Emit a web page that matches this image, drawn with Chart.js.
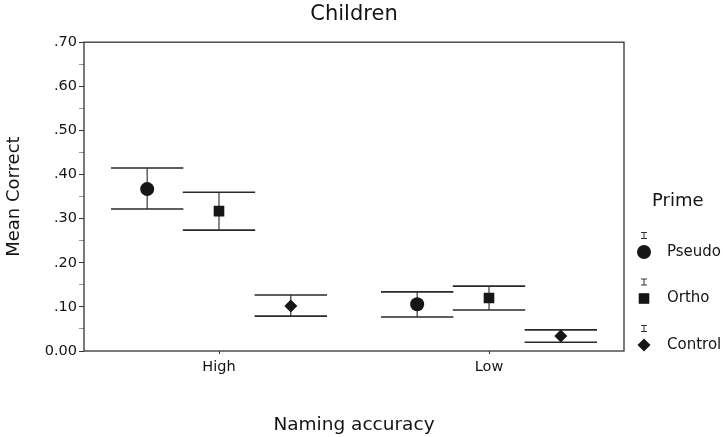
<!DOCTYPE html>
<html>
<head>
<meta charset="utf-8">
<script src="https://cdn.jsdelivr.net/npm/chart.js@4.4.1/dist/chart.umd.min.js"></script>
<style>
  html, body { margin: 0; padding: 0; background: #fff; }
  #wrap { width: 723px; height: 437px; }
</style>
</head>
<body>
<div id="wrap"><canvas id="chart"></canvas></div>
<script>
// Values (mean correct with error bar ends)
var categories = ['High', 'Low'];
var primeNames = ['Pseudo', 'Ortho', 'Control'];

var pseudoMean  = [0.367, 0.106];
var pseudoUpper = [0.415, 0.134];
var pseudoLower = [0.322, 0.077];

var orthoMean  = [0.317, 0.120];
var orthoUpper = [0.360, 0.147];
var orthoLower = [0.274, 0.093];

var controlMean  = [0.102, 0.034];
var controlUpper = [0.127, 0.048];
var controlLower = [0.079, 0.020];

var ink = '#161616';
var textInk = '#141414';
var FONT = '"DejaVu Sans", sans-serif';
var groupOffset = 0.266;   // horizontal dodge between primes, in category units
var capHalf = 0.134;       // half width of error bar caps

function points(means, shift) {
    return means.map(function (m, i) {
        return { x: i + 1 + shift, y: m };
    });
}

function makeSet(name, means, upper, lower, shift, style, radius) {
    return {
        label: name,
        data: points(means, shift),
        upper: upper,
        lower: lower,
        showLine: false,
        pointStyle: style,
        pointRadius: radius,
        pointHoverRadius: radius,
        pointBackgroundColor: ink,
        pointBorderColor: ink,
        pointBorderWidth: 0
    };
}

function drawMarker(ctx, style, x, y, r) {
    ctx.beginPath();
    if (style === 'circle') {
        ctx.arc(x, y, r, 0, Math.PI * 2);
    } else if (style === 'rect') {
        var s = r * Math.SQRT1_2;
        ctx.rect(x - s, y - s, 2 * s, 2 * s);
    } else {
        ctx.moveTo(x - r, y);
        ctx.lineTo(x, y - r);
        ctx.lineTo(x + r, y);
        ctx.lineTo(x, y + r);
        ctx.closePath();
    }
    ctx.fill();
}

// error bars: stem + wide caps, drawn through the chart scales
var errorBars = {
    id: 'errorBars',
    beforeDatasetsDraw: function (chart) {
        var ctx = chart.ctx;
        var xs = chart.scales.x, ys = chart.scales.y;
        ctx.save();
        chart.data.datasets.forEach(function (ds) {
            ds.data.forEach(function (p, i) {
                var px = xs.getPixelForValue(p.x);
                var yu = ys.getPixelForValue(ds.upper[i]);
                var yl = ys.getPixelForValue(ds.lower[i]);
                ctx.strokeStyle = '#3a3a3a';
                ctx.lineWidth = 1.2;
                ctx.beginPath();
                ctx.moveTo(px, yu);
                ctx.lineTo(px, yl);
                ctx.stroke();
                var x0 = xs.getPixelForValue(p.x - capHalf);
                var x1 = xs.getPixelForValue(p.x + capHalf);
                ctx.strokeStyle = '#2a2a2a';
                ctx.lineWidth = 1.6;
                ctx.beginPath();
                ctx.moveTo(x0, yu);
                ctx.lineTo(x1, yu);
                ctx.moveTo(x0, yl);
                ctx.lineTo(x1, yl);
                ctx.stroke();
            });
        });
        ctx.restore();
    }
};

// box round the plot area
var frame = {
    id: 'frame',
    afterDraw: function (chart) {
        var a = chart.chartArea;
        var ctx = chart.ctx;
        ctx.save();
        ctx.strokeStyle = '#333';
        ctx.lineWidth = 1.3;
        ctx.strokeRect(a.left, a.top, a.right - a.left, a.bottom - a.top);
        ctx.restore();
    }
};

// legend on the right, with the little error bar glyph above each marker
var primeLegend = {
    id: 'primeLegend',
    afterDraw: function (chart) {
        var ctx = chart.ctx;
        ctx.save();
        ctx.fillStyle = textInk;
        ctx.textBaseline = 'middle';
        ctx.textAlign = 'left';
        ctx.font = '18px ' + FONT;
        ctx.fillText('Prime', 652, 201);
        ctx.font = '15px ' + FONT;
        chart.data.datasets.forEach(function (ds, i) {
            var y = 252 + i * 46.5;
            var mx = 644;
            ctx.strokeStyle = '#333';
            ctx.lineWidth = 1;
            ctx.beginPath();
            ctx.moveTo(mx - 3, y - 19.5); ctx.lineTo(mx + 3, y - 19.5);
            ctx.moveTo(mx, y - 19.5); ctx.lineTo(mx, y - 13.5);
            ctx.moveTo(mx - 3, y - 13.5); ctx.lineTo(mx + 3, y - 13.5);
            ctx.stroke();
            ctx.fillStyle = ink;
            drawMarker(ctx, ds.pointStyle, mx, y, ds.pointRadius);
            ctx.fillStyle = textInk;
            ctx.fillText(ds.label, 667, y);
        });
        ctx.restore();
    }
};

var chart = new Chart(document.getElementById('chart').getContext('2d'), {
    type: 'line',
    data: {
        datasets: [
            makeSet(primeNames[0], pseudoMean, pseudoUpper, pseudoLower, -groupOffset, 'circle', 7),
            makeSet(primeNames[1], orthoMean, orthoUpper, orthoLower, 0, 'rect', 7.5),
            makeSet(primeNames[2], controlMean, controlUpper, controlLower, groupOffset, 'rectRot', 6.5)
        ]
    },
    options: {
        responsive: true,
        maintainAspectRatio: false,
        animation: false,
        devicePixelRatio: 1,
        layout: { padding: { left: 0, right: 99, top: 0, bottom: 0 } },
        plugins: {
            legend: { display: false },
            tooltip: { enabled: false },
            title: {
                display: true,
                text: 'Children',
                fullSize: false,
                color: textInk,
                font: { family: FONT, size: 21, weight: 'normal' },
                padding: { top: 2, bottom: 15 }
            }
        },
        scales: {
            x: {
                type: 'linear',
                min: 0.5,
                max: 2.5,
                afterBuildTicks: function (scale) {
                    scale.ticks = categories.map(function (c, i) { return { value: i + 1 }; });
                },
                afterFit: function (scale) { scale.height = 86; },
                ticks: {
                    color: textInk,
                    padding: 5,
                    font: { family: FONT, size: 14.5 },
                    callback: function (v, i) { return categories[i]; }
                },
                grid: { display: true, drawOnChartArea: false, drawTicks: true, tickLength: 3, tickColor: '#333' },
                border: { display: false },
                title: {
                    display: true,
                    text: 'Naming accuracy',
                    color: textInk,
                    font: { family: FONT, size: 18.5 },
                    padding: { top: 0, bottom: 1 }
                }
            },
            y: {
                min: 0,
                max: 0.7,
                afterFit: function (scale) { scale.width = 84; },
                ticks: {
                    stepSize: 0.05,
                    maxTicksLimit: 20,
                    color: textInk,
                    padding: 2,
                    font: { family: FONT, size: 14.5 },
                    callback: function (v) {
                        var h = Math.round(v * 100);
                        if (h % 10 !== 0) return '';
                        if (h === 0) return '0.00';
                        return (h / 100).toFixed(2).replace(/^0/, '');
                    }
                },
                grid: {
                    display: true,
                    drawOnChartArea: false,
                    drawTicks: true,
                    tickLength: 5,
                    tickColor: function (c) {
                        return Math.round(c.tick.value * 100) % 10 === 0 ? '#333' : '#999';
                    }
                },
                border: { display: false },
                title: {
                    display: true,
                    text: 'Mean Correct',
                    color: textInk,
                    font: { family: FONT, size: 18 },
                    padding: { top: 4, bottom: 0 }
                }
            }
        }
    },
    plugins: [errorBars, frame, primeLegend]
});
</script>
</body>
</html>
